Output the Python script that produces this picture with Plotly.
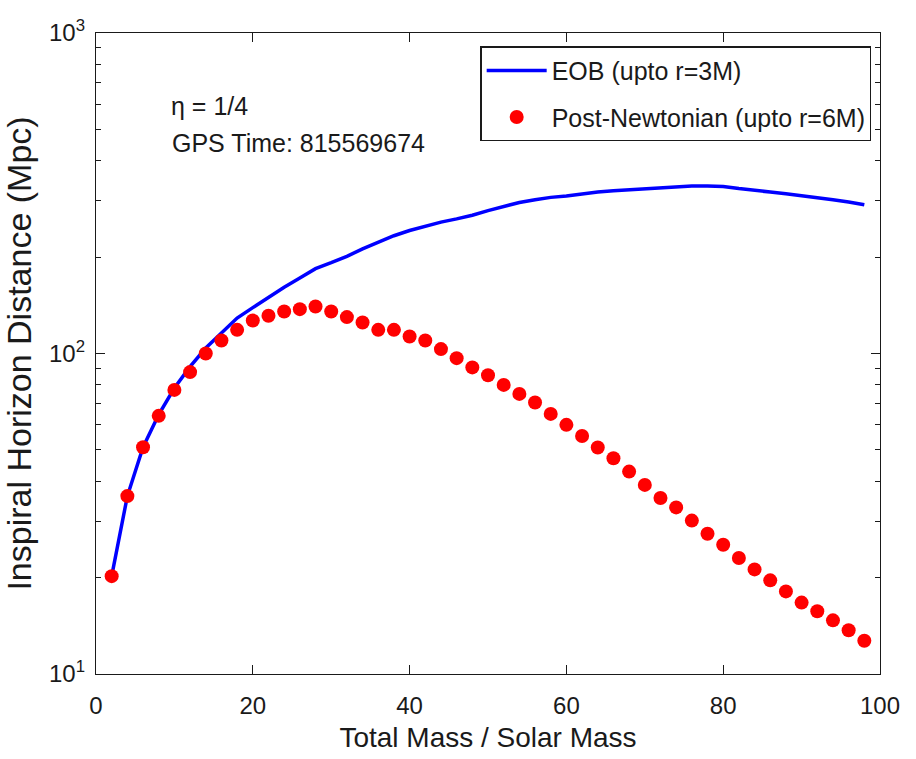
import plotly.graph_objects as go

mass = [2, 4, 6, 8, 10, 12, 14, 16, 18, 20, 22, 24, 26, 28, 30, 32, 34, 36, 38, 40,
        42, 44, 46, 48, 50, 52, 54, 56, 58, 60, 62, 64, 66, 68, 70, 72, 74, 76, 78, 80,
        82, 84, 86, 88, 90, 92, 94, 96, 98]

eob = [20.2, 35.9, 51.0, 64.5, 78.0, 91.0, 104, 116, 129, 139, 150, 161, 172, 184, 192,
       201, 212, 223, 233, 242, 250, 257, 263, 270, 279, 288, 296, 302, 307, 310, 315,
       319, 322, 324, 327, 329, 331, 333, 333, 332, 327, 322, 319, 315, 311, 306, 302,
       297, 291]

pn = [20.2, 35.9, 51.0, 63.9, 77.0, 87.5, 100, 109.8, 118.5, 126.7, 131.1, 135.2, 137.5,
      140.2, 135.2, 129.9, 124.9, 118.5, 118.5, 113.0, 109.8, 103.2, 96.7, 90.5, 85.5,
      79.8, 74.8, 70.3, 64.8, 59.9, 55.3, 50.9, 47.1, 42.8, 38.9, 35.4, 33.1, 30.1, 27.4,
      25.3, 23.0, 21.2, 19.6, 18.1, 16.7, 15.7, 14.7, 13.7, 12.7]

x_ticks = [0, 20, 40, 60, 80, 100]
y_ticks = [10, 100, 1000]
y_tick_text = ["10<sup>1</sup>", "10<sup>2</sup>", "10<sup>3</sup>"]

FONT = "Liberation Sans, Arial, Helvetica, sans-serif"
TXT = "#1a1a1a"

fig = go.Figure()
fig.add_trace(go.Scatter(
    x=mass, y=eob, mode="lines", name="EOB (upto r=3M)",
    line=dict(color="#0000ff", width=3.5), legendgroup="a"))
fig.add_trace(go.Scatter(
    x=mass, y=pn, mode="markers", name="Post-Newtonian (upto r=6M)",
    marker=dict(color="#ff0000", size=14, line=dict(width=0)), legendgroup="b"))

fig.update_layout(
    width=916, height=759,
    margin=dict(l=96, r=36, t=33, b=85),
    paper_bgcolor="white", plot_bgcolor="white",
    font=dict(family=FONT, color=TXT, size=24),
    showlegend=True,
    legend=dict(x=0.989, y=0.979, xanchor="right", yanchor="top",
                bgcolor="white", bordercolor="#1a1a1a", borderwidth=1.3,
                font=dict(family=FONT, size=25, color=TXT),
                traceorder="grouped", tracegroupgap=11, itemwidth=60),
    annotations=[
        dict(text="η = 1/4", x=0.093, y=0.8865, xref="paper", yref="paper",
             xanchor="left", yanchor="middle", showarrow=False,
             font=dict(family=FONT, size=25, color=TXT)),
        dict(text="GPS Time: 815569674", x=0.095, y=0.828, xref="paper", yref="paper",
             xanchor="left", yanchor="middle", showarrow=False,
             font=dict(family=FONT, size=25, color=TXT)),
    ],
)

fig.update_xaxes(
    range=[0, 100], tickvals=x_ticks, ticks="inside", ticklen=9, tickwidth=1.2,
    tickcolor="#1a1a1a", showline=True, linecolor="#1a1a1a", linewidth=1.3,
    mirror="ticks", showgrid=False, zeroline=False, ticklabelstandoff=10,
    tickfont=dict(family=FONT, size=24, color=TXT),
    title=dict(text="Total Mass / Solar Mass", standoff=9,
               font=dict(family=FONT, size=28, color=TXT)))

fig.update_yaxes(
    type="log", range=[1, 3], tickvals=y_ticks, ticktext=y_tick_text,
    ticks="inside", ticklen=9, tickwidth=1.2, tickcolor="#1a1a1a",
    showline=True, linecolor="#1a1a1a", linewidth=1.3, mirror="ticks",
    showgrid=False, zeroline=False, ticklabelstandoff=5,
    minor=dict(ticks="inside", ticklen=5, tickwidth=1.2, tickcolor="#1a1a1a",
               dtick="D1", showgrid=False),
    tickfont=dict(family=FONT, size=24, color=TXT),
    title=dict(text="Inspiral Horizon Distance (Mpc)", standoff=9,
               font=dict(family=FONT, size=34, color=TXT)))

fig.write_html("out.html")
